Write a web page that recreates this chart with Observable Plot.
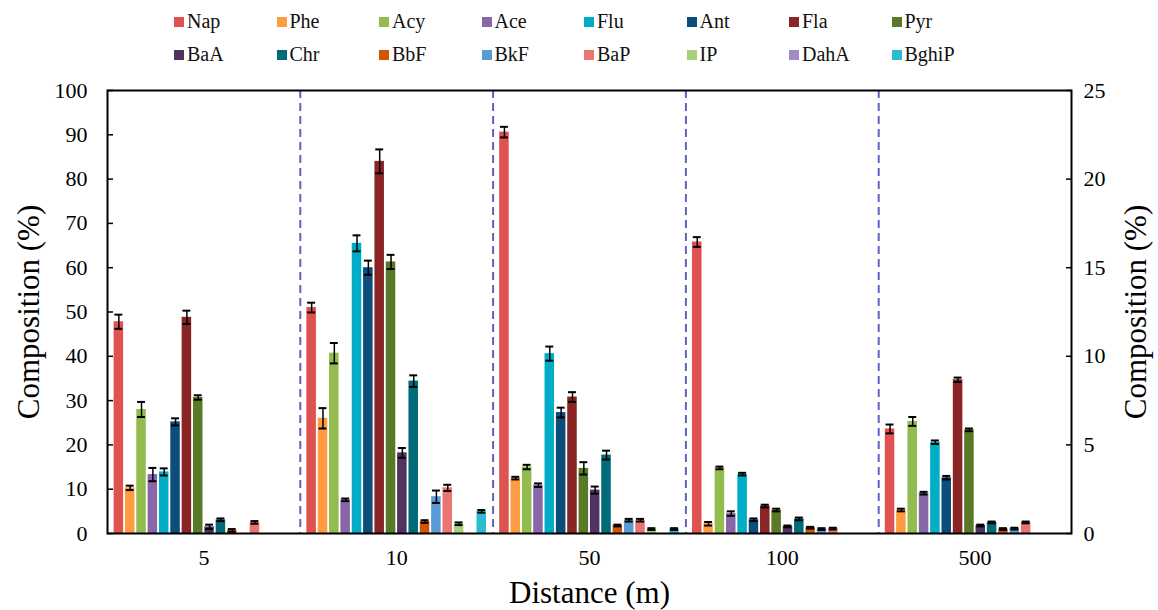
<!DOCTYPE html>
<html><head><meta charset="utf-8">
<script src="https://cdn.jsdelivr.net/npm/d3@7"></script>
<script src="https://cdn.jsdelivr.net/npm/@observablehq/plot@0.6"></script>
<style>
body{margin:0;background:#fff;font-family:"Liberation Serif","DejaVu Serif","Times New Roman",serif;}
#legend{width:1158px;height:72px;box-sizing:border-box;padding:5px 0 0 174px;display:grid;grid-template-columns:repeat(8,102.5px);grid-auto-rows:33px;}
.item{display:flex;align-items:center;font-size:20px;color:#111;}
.sw{width:10px;height:10px;margin-right:3px;flex:none;}
svg text{font-family:"Liberation Serif","DejaVu Serif","Times New Roman",serif;}
</style></head><body>
<div id="legend"></div><div id="chart"></div>
<script>
const compounds = ["Nap","Phe","Acy","Ace","Flu","Ant","Fla","Pyr","BaA","Chr","BbF","BkF","BaP","IP","DahA","BghiP"];
const colors = ["#de5250","#ff9b41","#93bc4e","#8866a8","#00adc7","#0c4d7b","#8a2425","#587a26","#4f3461","#006b79","#d45500","#5b9bd5","#ea7470","#a9cf7a","#a48ac4","#2bbccf"];
const distances = ["5","10","50","100","500"];
// composition (%) per distance, in compound order
const d5   = [47.8, 10.3, 28.0, 13.3, 13.9, 25.2, 48.8, 30.7, 1.5, 3.1, 0.7, 0, 2.5, 0, 0, 0];
const d10  = [51.0, 26.0, 40.7, 7.6, 65.5, 60.0, 84.0, 61.3, 18.2, 34.4, 2.7, 8.3, 10.3, 2.2, 0, 5.0];
const d50  = [90.6, 12.5, 15.0, 10.9, 40.6, 27.3, 30.8, 14.7, 9.8, 17.7, 1.8, 3.0, 3.0, 1.0, 0, 1.0];
const d100 = [65.8, 2.2, 14.8, 4.5, 13.4, 3.1, 6.2, 5.3, 1.6, 3.3, 1.3, 1.0, 1.1, 0, 0, 0];
const d500 = [23.6, 5.3, 25.3, 9.1, 20.6, 12.6, 34.7, 23.4, 1.8, 2.5, 1.0, 1.1, 2.5, 0, 0, 0];
// error (±)
const e5   = [1.6, 0.5, 1.7, 1.5, 0.8, 0.8, 1.5, 0.5, 0.5, 0.3, 0.3, 0, 0.3, 0, 0, 0];
const e10  = [1.1, 2.3, 2.3, 0.3, 1.8, 1.6, 2.7, 1.6, 1.1, 1.3, 0.3, 1.4, 0.7, 0.3, 0, 0.3];
const e50  = [1.2, 0.3, 0.5, 0.4, 1.6, 1.1, 1.1, 1.4, 0.8, 1.0, 0.2, 0.3, 0.3, 0.2, 0, 0.2];
const e100 = [1.1, 0.4, 0.3, 0.5, 0.3, 0.3, 0.3, 0.3, 0.2, 0.3, 0.2, 0.2, 0.2, 0, 0, 0];
const e500 = [1.0, 0.3, 1.0, 0.3, 0.4, 0.4, 0.5, 0.3, 0.2, 0.2, 0.2, 0.2, 0.2, 0, 0, 0];
const leftTicks = [0,10,20,30,40,50,60,70,80,90,100];
const rightTicks = [0,5,10,15,20,25];

const values = [d5, d10, d50, d100, d500];
const errors = [e5, e10, e50, e100, e500];
const slot = compounds.length + 1;
const rows = [];
distances.forEach((dist, g) => compounds.forEach((c, s) => {
  rows.push({dist, compound: c, value: values[g][s], err: errors[g][s], pos: g * slot + s + 1});
}));
const errRows = rows.filter(d => d.err > 0);

// legend
const lg = document.getElementById("legend");
compounds.forEach((c, i) => {
  const it = document.createElement("div");
  it.className = "item";
  it.innerHTML = `<span class="sw" style="background:${colors[i]}"></span><span>${c}</span>`;
  lg.appendChild(it);
});

const serif = "'Liberation Serif', 'DejaVu Serif', 'Times New Roman', serif";
const chart = Plot.plot({
  width: 1158, height: 538,
  marginLeft: 107, marginRight: 87, marginTop: 18, marginBottom: 77,
  style: {fontFamily: serif, fontSize: "22px", color: "#000", background: "#fff"},
  x: {domain: [0, distances.length * slot], axis: null},
  y: {domain: [0, 100], axis: null},
  color: {domain: compounds, range: colors},
  marks: [
    Plot.ruleX(d3.range(1, distances.length), {x: g => g * slot, stroke: "#5b62c4", strokeWidth: 2, strokeDasharray: "8,5"}),
    Plot.rectY(rows, {x1: d => d.pos - 0.42, x2: d => d.pos + 0.42, y1: 0, y2: "value", fill: "compound"}),
    Plot.ruleX(errRows, {x: "pos", y1: d => d.value - d.err, y2: d => d.value + d.err, stroke: "#000", strokeWidth: 1.5}),
    Plot.ruleY(errRows, {y: d => d.value + d.err, x1: d => d.pos - 0.35, x2: d => d.pos + 0.35, stroke: "#000", strokeWidth: 2}),
    Plot.ruleY(errRows, {y: d => d.value - d.err, x1: d => d.pos - 0.35, x2: d => d.pos + 0.35, stroke: "#000", strokeWidth: 2}),
    Plot.frame({stroke: "#000", strokeWidth: 2}),
    Plot.axisY({anchor: "left", ticks: leftTicks, tickSize: -6, tickPadding: 26, tickFormat: d => d, label: null, strokeWidth: 1.5}),
    Plot.axisY({anchor: "right", ticks: rightTicks.map(v => v * 4), tickFormat: v => v / 4, tickSize: -6, tickPadding: 18, label: null, strokeWidth: 1.5}),
    Plot.axisX({ticks: distances.map((d, g) => g * slot + slot / 2), tickFormat: v => distances[Math.round((v - slot / 2) / slot)], tickSize: 0, tickPadding: 16, label: null}),
    Plot.text(["Composition (%)"], {frameAnchor: "left", textAnchor: "middle", dx: -78, rotate: -90, fontSize: 31}),
    Plot.text(["Composition (%)"], {frameAnchor: "right", textAnchor: "middle", dx: 65, rotate: -90, fontSize: 31}),
    Plot.text(["Distance (m)"], {frameAnchor: "bottom", lineAnchor: "bottom", dy: 69, fontSize: 31})
  ]
});
document.getElementById("chart").appendChild(chart);
</script>
</body></html>
